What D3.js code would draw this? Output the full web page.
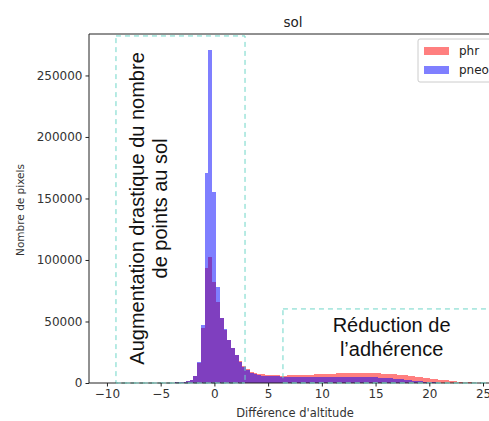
<!DOCTYPE html>
<html>
<head>
<meta charset="utf-8">
<script src="https://cdn.jsdelivr.net/npm/d3@7"></script>
<style>
  body { margin: 0; background: #fff; }
  svg { display: block; }
</style>
</head>
<body>
<script>

// histogram bins (100 bins of 0.35 from -10 to 25)
let binStart = -10;
let binWidth = 0.35;

// counts per bin for each sensor
let phr = [
    0, 0, 0, 0, 0, 0, 0, 0, 0, 0,
    30, 40, 60, 80, 110, 150, 210, 300, 420, 600,
    900, 1500, 2700, 5500, 16000, 45000, 93500, 102500, 82000, 66000,
    52500, 43000, 35000, 28500, 23000, 17500, 13500, 11000, 9200, 8200,
    7500, 7000, 6700, 6400, 6200, 6100, 6000, 6000, 6100, 6200,
    6300, 6500, 6600, 6800, 6900, 7000, 7100, 7200, 7300, 7500,
    7700, 7900, 8100, 8300, 8400, 8300, 8200, 8400, 8300, 8200,
    8000, 7900, 7800, 7700, 7500, 7300, 7100, 6800, 6500, 6200,
    5800, 5400, 5000, 4700, 4300, 4000, 3600, 3200, 2800, 2400,
    2100, 1800, 1500, 1200, 1000, 800, 600, 450, 300, 200
];

let pneo = [
    0, 0, 0, 0, 0, 0, 0, 0, 0, 0,
    30, 40, 60, 80, 110, 150, 210, 300, 420, 600,
    900, 1500, 2800, 5800, 17000, 47000, 171000, 271000, 155000, 78000,
    53000, 43500, 35000, 28500, 22500, 17000, 13000, 10300, 8300, 7200,
    6500, 6000, 5700, 5500, 5400, 5300, 5200, 5200, 5100, 5100,
    5100, 5100, 5100, 5100, 5100, 5100, 5100, 5100, 5100, 5100,
    5100, 5100, 5000, 5000, 5000, 4900, 4900, 4800, 4800, 4700,
    4600, 4500, 4400, 4200, 4000, 3800, 3500, 3200, 2900, 2600,
    2300, 2000, 1700, 1400, 1100, 850, 650, 500, 380, 280,
    200, 150, 110, 80, 60, 40, 30, 20, 10, 5
];

let seriesNames = ["phr", "pneo"];
let seriesColors = ["red", "blue"];

let xTicks = [-10, -5, 0, 5, 10, 15, 20, 25];
let yTicks = [0, 50000, 100000, 150000, 200000, 250000];

// canvas and margins (right edge of the figure is cut off in the original)
let width = 489;
let height = 421;
let margin = {left: 89, top: 34, right: 0, bottom: 38};
let plotW = 408;
let plotH = 349;

let x = d3.scaleLinear().domain([-11.67, 26.3]).range([0, plotW]);
let y = d3.scaleLinear().domain([0, 283700]).range([plotH, 0]);

let svg = d3.select("body").append("svg")
    .attr("width", width)
    .attr("height", height)
    .style("font-family", "'DejaVu Sans', sans-serif");

let chartGroup = svg.append("g")
    .attr("transform", "translate(" + margin.left + "," + margin.top + ")");

// bars: phr first, pneo over it, both half transparent
[phr, pneo].forEach((counts, s) => {
    chartGroup.append("g")
        .selectAll("rect")
        .data(counts)
        .enter().append("rect")
        .attr("x", (d, i) => x(binStart + i * binWidth))
        .attr("width", (d, i) => x(binStart + (i + 1) * binWidth) - x(binStart + i * binWidth))
        .attr("y", (d) => y(d))
        .attr("height", (d) => y(0) - y(d))
        .attr("fill", seriesColors[s])
        .attr("fill-opacity", 0.5)
        .attr("shape-rendering", "crispEdges");
});

// dashed annotation boxes
let boxes = [
    {x0: -9.16, x1: 2.85, top: 282100},
    {x0: 6.38, x1: 27, top: 60200}
];
chartGroup.selectAll(".box")
    .data(boxes)
    .enter().append("rect")
    .attr("class", "box")
    .attr("x", (d) => x(d.x0))
    .attr("y", (d) => y(d.top))
    .attr("width", (d) => x(d.x1) - x(d.x0))
    .attr("height", (d) => y(0) - y(d.top))
    .attr("fill", "none")
    .attr("stroke", "#6fd6c8")
    .attr("stroke-width", 1)
    .attr("stroke-dasharray", "5,4");

// frame (left, top, bottom spines)
chartGroup.append("path")
    .attr("d", "M" + plotW + ",0H0V" + plotH + "H" + plotW)
    .attr("fill", "none")
    .attr("stroke", "#222")
    .attr("stroke-width", 1);

// bottom dashes of the boxes sit on top of the spine
chartGroup.selectAll(".boxBottom")
    .data(boxes)
    .enter().append("line")
    .attr("x1", (d) => x(d.x0))
    .attr("x2", (d) => x(d.x1))
    .attr("y1", y(0))
    .attr("y2", y(0))
    .attr("stroke", "#8fe3d8")
    .attr("stroke-width", 1.2)
    .attr("stroke-dasharray", "5,4");

// axes
let xAxis = d3.axisBottom(x).tickValues(xTicks).tickSize(3.5).tickPadding(3)
    .tickFormat((d) => d < 0 ? "\u2212" + Math.abs(d) : d);
let yAxis = d3.axisLeft(y).tickValues(yTicks).tickSize(3.5).tickPadding(3)
    .tickFormat(d3.format("d"));

let gx = chartGroup.append("g")
    .attr("transform", "translate(0," + plotH + ")")
    .call(xAxis);
let gy = chartGroup.append("g").call(yAxis);

[gx, gy].forEach((g) => {
    g.select(".domain").remove();
    g.selectAll("line").attr("stroke", "#222");
    g.selectAll("text")
        .attr("fill", "#333")
        .style("font-family", "'DejaVu Sans', sans-serif")
        .style("font-size", "12px");
});

// title and axis labels
svg.append("text")
    .attr("x", 293)
    .attr("y", 27)
    .attr("text-anchor", "middle")
    .attr("fill", "#222")
    .style("font-size", "13.5px")
    .text("sol");

svg.append("text")
    .attr("x", 295)
    .attr("y", 417)
    .attr("text-anchor", "middle")
    .attr("fill", "#333")
    .style("font-size", "11.5px")
    .text("Différence d'altitude");

svg.append("text")
    .attr("transform", "translate(24,210) rotate(-90)")
    .attr("text-anchor", "middle")
    .attr("fill", "#333")
    .style("font-size", "10.5px")
    .text("Nombre de pixels");

// annotation texts
let annFont = "'Liberation Sans', Arial, sans-serif";
let leftLines = ["Augmentation drastique du nombre", "de points au sol"];
let leftPos = [-6.55, -4.45];
leftLines.forEach((t, i) => {
    chartGroup.append("text")
        .attr("transform", "translate(" + x(leftPos[i]) + "," + y(141900) + ") rotate(-90)")
        .attr("text-anchor", "middle")
        .attr("fill", "#111")
        .style("font-family", annFont)
        .style("font-size", "20px")
        .text(t);
});

let rightLines = ["Réduction de", "l\u2019adhérence"];
let rightPos = [41460, 21950];
rightLines.forEach((t, i) => {
    chartGroup.append("text")
        .attr("x", x(16.49))
        .attr("y", y(rightPos[i]))
        .attr("text-anchor", "middle")
        .attr("fill", "#111")
        .style("font-family", annFont)
        .style("font-size", "20px")
        .text(t);
});

// legend
let legend = svg.append("g").attr("transform", "translate(418,39)");
legend.append("rect")
    .attr("width", 90)
    .attr("height", 43)
    .attr("rx", 2)
    .attr("fill", "#fff")
    .attr("fill-opacity", 0.8)
    .attr("stroke", "#ccc");
seriesNames.forEach((name, i) => {
    legend.append("rect")
        .attr("x", 6)
        .attr("y", 8 + i * 19)
        .attr("width", 25)
        .attr("height", 8)
        .attr("fill", seriesColors[i])
        .attr("fill-opacity", 0.5);
    legend.append("text")
        .attr("x", 41)
        .attr("y", 16 + i * 19)
        .attr("fill", "#222")
        .style("font-size", "12px")
        .text(name);
});
</script>
</body>
</html>
